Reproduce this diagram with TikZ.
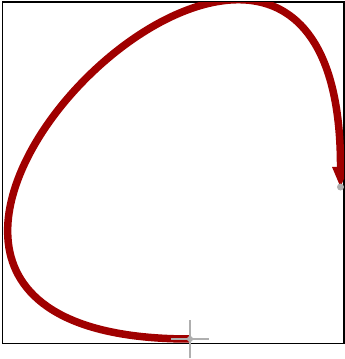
\documentclass[tikz,border=0pt]{standalone}
\usetikzlibrary{arrows.meta}
\definecolor{curvered}{RGB}{160,0,0}
\definecolor{markgray}{RGB}{175,175,175}
\begin{document}
\begin{tikzpicture}[x=1pt,y=-1pt,
  frame/.style={draw=black,line width=1.5pt},
  curve/.style={draw=curvered,line width=7.5pt,
    -{Triangle[length=20pt,width=17pt,line width=0pt]}},
  crossline/.style={draw=markgray,line width=2pt},
  enddot/.style={fill=markgray}]
\useasboundingbox (0,0) rectangle (345,359);
\draw[frame] (2.5,2) rectangle (344,343.5);
\coordinate (start) at (190,339);
\coordinate (c1) at (-295,339);
\coordinate (c2) at (341,-292);
\coordinate (end) at (340.5,187);
\begin{scope}
\clip (2.5,2) rectangle (344,343.5);
\draw[curve] (start) .. controls (c1) and (c2) .. (end);
\end{scope}
\draw[crossline] ([xshift=-19pt]start) -- ([xshift=19pt]start);
\draw[crossline] ([yshift=-19pt]start) -- ([yshift=19pt]start);
\fill[enddot] (start) circle (3pt);
\begin{scope}
\clip (2.5,2) rectangle (344.7,343.5);
\fill[enddot] (end) circle (3.5pt);
\end{scope}
\end{tikzpicture}
\end{document}
